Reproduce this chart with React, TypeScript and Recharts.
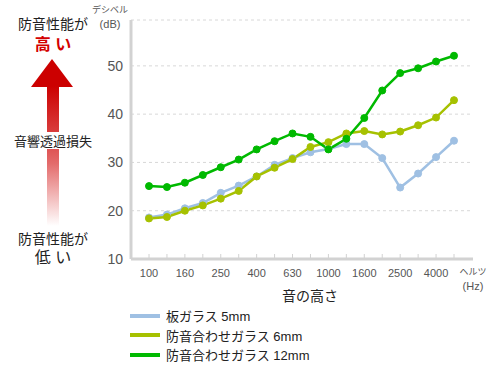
import { CartesianGrid, Legend, Line, LineChart, XAxis, YAxis } from "recharts"

const FONT = "'Liberation Sans', 'Noto Sans CJK JP', sans-serif"

const frequencies = ["100", "125", "160", "200", "250", "315", "400", "500", "630", "800", "1000", "1250", "1600", "2000", "2500", "3150", "4000", "5000"]
const plate5 = [18.6, 19.2, 20.5, 21.6, 23.7, 25.2, 27.1, 29.5, 30.9, 32.1, 32.8, 33.8, 33.8, 30.9, 24.8, 27.7, 31.1, 34.5]
const laminated6 = [18.4, 18.7, 20.0, 21.1, 22.5, 24.1, 27.1, 28.9, 30.7, 33.2, 34.2, 36.0, 36.5, 35.8, 36.4, 37.7, 39.3, 42.9]
const laminated12 = [25.1, 24.9, 25.8, 27.4, 29.0, 30.6, 32.7, 34.4, 36.0, 35.3, 32.7, 34.9, 39.2, 44.9, 48.5, 49.5, 50.9, 52.1]
const yTicks = [10, 20, 30, 40, 50]

const SERIES = [
    { key: "plate5", name: "板ガラス 5mm", color: "#9fc0e3" },
    { key: "laminated6", name: "防音合わせガラス 6mm", color: "#a6c100" },
    { key: "laminated12", name: "防音合わせガラス 12mm", color: "#00b900" },
]

const data = frequencies.map((f, i) => ({
    freq: f,
    plate5: plate5[i],
    laminated6: laminated6[i],
    laminated12: laminated12[i],
}))

const BORDER = "#d2d2d2"

function FreqTick({ x, y, payload, index }: any) {
    return (
        <g>
            <line x1={x} x2={x} y1={y - 5} y2={y - 1} stroke={BORDER} strokeWidth={1} />
            {index % 2 === 0 && (
                <text x={x} y={y + 18} textAnchor="middle" fill="#555" fontSize={11} fontFamily={FONT}>
                    {payload.value}
                </text>
            )}
        </g>
    )
}

function LegendList() {
    return (
        <div style={{ fontFamily: FONT, fontSize: 13, color: "#222" }}>
            {SERIES.map((s) => (
                <div key={s.key} style={{ display: "flex", alignItems: "center", height: 19.5 }}>
                    <span style={{ display: "inline-block", width: 30, height: 4, background: s.color, marginRight: 6 }} />
                    {s.name}
                </div>
            ))}
        </div>
    )
}

function SideNote() {
    const t = (top: number, text: string, size: number, color = "#222", extra: any = {}) => (
        <div
            style={{
                position: "absolute",
                left: 0,
                width: 106,
                top: top - size * 0.7,
                textAlign: "center",
                fontSize: size,
                lineHeight: `${size * 1.4}px`,
                color,
                fontFamily: FONT,
                ...extra,
            }}
        >
            {text}
        </div>
    )
    return (
        <>
            <svg width={106} height={240} style={{ position: "absolute", left: 0, top: 0 }}>
                <defs>
                    <linearGradient id="shaft" x1="0" y1="86" x2="0" y2="226" gradientUnits="userSpaceOnUse">
                        <stop offset="0" stopColor="#cc0000" />
                        <stop offset="0.4" stopColor="#dc4a4a" />
                        <stop offset="0.55" stopColor="#e36a6a" />
                        <stop offset="1" stopColor="#ffffff" />
                    </linearGradient>
                </defs>
                <polygon points="52,59 31,87 73,87" fill="#cc0000" />
                <rect x={47} y={86} width={12} height={46} fill="url(#shaft)" />
                <rect x={47} y={149} width={12} height={77} fill="url(#shaft)" />
            </svg>
            {t(25, "防音性能が", 14)}
            {t(45, "高 い", 16, "#d40000", { fontWeight: "bold" })}
            {t(142, "音響透過損失", 13)}
            {t(240, "防音性能が", 14)}
            {t(258, "低 い", 16)}
        </>
    )
}

export default function App() {
    return (
        <div style={{ position: "absolute", left: 0, top: 0, width: 500, height: 370, background: "#fff" }}>
            <SideNote />
            <div style={{ position: "absolute", left: 84, width: 52, top: 4, textAlign: "center", fontFamily: FONT, color: "#555" }}>
                <div style={{ fontSize: 9, lineHeight: "13px" }}>デシベル</div>
                <div style={{ fontSize: 11, lineHeight: "14px" }}>(dB)</div>
            </div>
            <div style={{ position: "absolute", left: 450, width: 46, top: 266, textAlign: "center", fontFamily: FONT, color: "#555" }}>
                <div style={{ fontSize: 9, lineHeight: "13px" }}>ヘルツ</div>
                <div style={{ fontSize: 11, lineHeight: "14px" }}>(Hz)</div>
            </div>
            <div style={{ position: "absolute", left: 250, width: 120, top: 285, textAlign: "center", fontFamily: FONT, fontSize: 14, color: "#222" }}>
                音の高さ
            </div>
            <LineChart
                width={500}
                height={370}
                data={data}
                margin={{ top: 20, right: 27, bottom: 81, left: 86 }}
                style={{ position: "absolute", left: 0, top: 0 }}
            >
                <CartesianGrid vertical={false} stroke="#d8d8d8" strokeDasharray="3 3" />
                <XAxis
                    dataKey="freq"
                    height={30}
                    interval={0}
                    tickSize={0}
                    tickMargin={0}
                    tickLine={false}
                    axisLine={{ stroke: BORDER, strokeWidth: 3 }}
                    padding={{ left: 18, right: 19 }}
                    tick={<FreqTick />}
                />
                <XAxis xAxisId="top" dataKey="freq" orientation="top" height={0} tick={false} tickLine={false} axisLine={{ stroke: BORDER, strokeWidth: 3 }} />
                <YAxis
                    domain={[10, 59.5]}
                    ticks={yTicks}
                    width={45}
                    tickSize={0}
                    tickMargin={8}
                    tickLine={false}
                    axisLine={{ stroke: BORDER, strokeWidth: 3 }}
                    tick={{ fill: "#555", fontSize: 14, fontFamily: FONT }}
                />
                <YAxis yAxisId="right" orientation="right" width={0} tick={false} tickLine={false} axisLine={{ stroke: BORDER, strokeWidth: 3 }} />
                <Legend
                    layout="vertical"
                    align="center"
                    verticalAlign="middle"
                    content={<LegendList />}
                    wrapperStyle={{ left: 130, top: 306, width: 300 }}
                />
                {SERIES.map((s) => (
                    <Line
                        key={s.key}
                        dataKey={s.key}
                        name={s.name}
                        stroke={s.color}
                        strokeWidth={2.5}
                        dot={{ r: 3.5, fill: s.color, stroke: s.color, strokeWidth: 1 }}
                        isAnimationActive={false}
                    />
                ))}
            </LineChart>
        </div>
    )
}
